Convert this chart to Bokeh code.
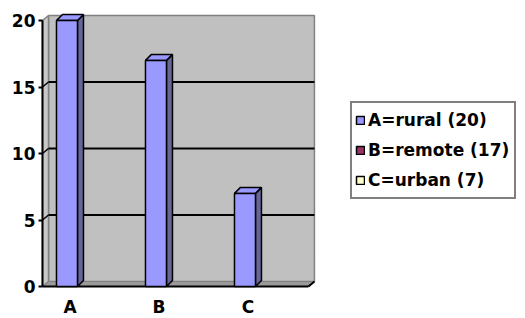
from bokeh.plotting import figure
from bokeh.models import Range1d, FixedTicker, ColumnDataSource, Legend, LegendItem
from bokeh.core.properties import value
from bokeh.embed import file_html
from bokeh.resources import INLINE

# ---- data ----
categories = ["A", "B", "C"]
counts = [20, 17, 7]
legend_labels = ["A=rural (20)", "B=remote (17)", "C=urban (7)"]
legend_colors = ["#9999FF", "#993366", "#FFFFCC"]
y_ticks = [0, 5, 10, 15, 20]

# ---- geometry (pixel-derived scales) ----
PX_X = 89.0      # px per x unit
PX_Y = 13.3      # px per y unit
FIG_W, FIG_H = 525, 318
BORDER_L, BORDER_T = 40, 4
frame_w = FIG_W - BORDER_L
frame_h = FIG_H - BORDER_T
x_front0 = -0.275                     # front-left corner of the chart box
x_start = x_front0 - 2 / PX_X
x_end = x_start + frame_w / PX_X
top_px = 20                           # px of value 20
y_end = y_ticks[-1] + (top_px - BORDER_T) / PX_Y
y_start = y_end - frame_h / PX_Y
zero_px = BORDER_T + y_end * PX_Y
x_front1 = 2.713                      # front-right corner of the floor
ymax = y_ticks[-1]
dx, dy = 6 / PX_X, 5 / PX_Y           # wall depth
bdx, bdy = 6 / PX_X, 6 / PX_Y         # bar depth
bw = 21 / PX_X                        # bar front width
FONT = "DejaVu Sans"
NAN = float("nan")

p = figure(width=FIG_W, height=FIG_H, output_backend="svg", toolbar_location=None,
           x_range=Range1d(x_start, x_end), y_range=Range1d(y_start, y_end),
           min_border_left=BORDER_L, min_border_top=BORDER_T,
           min_border_right=0, min_border_bottom=0)
p.outline_line_color = None
p.background_fill_color = "white"
p.border_fill_color = "white"
p.xgrid.visible = False
p.ygrid.visible = False
p.xaxis.visible = False

ya = p.yaxis[0]
ya.ticker = FixedTicker(ticks=y_ticks)
ya.axis_line_color = None
ya.major_tick_in = 2
ya.major_tick_out = 2
ya.major_tick_line_width = 2
ya.major_tick_line_color = "black"
ya.minor_tick_line_color = None
ya.major_label_standoff = 3
ya.major_label_text_font = FONT
ya.major_label_text_font_style = "bold"
ya.major_label_text_font_size = "17px"
ya.major_label_text_color = "black"

# back wall
p.quad(left=[x_front0 + dx], right=[x_front1 + dx], bottom=[dy], top=[ymax + dy],
       fill_color="#C0C0C0", line_color="#808080", line_width=1.5)
# side wall
p.patch([x_front0, x_front0 + dx, x_front0 + dx, x_front0], [0, dy, ymax + dy, ymax],
        fill_color="#C8C8C8", line_color="#808080", line_width=1.5)
# floor
p.patch([x_front0, x_front1, x_front1 + dx, x_front0 + dx], [0, 0, dy, dy],
        fill_color="#9A9A9A", line_color="#808080", line_width=1)
# gridlines on back wall
grid_vals = [v for v in y_ticks if 0 < v < ymax]
p.segment(x0=[x_front0 + dx] * len(grid_vals), y0=[v + dy for v in grid_vals],
          x1=[x_front1 + dx] * len(grid_vals), y1=[v + dy for v in grid_vals],
          line_color="black", line_width=2)
p.segment(x0=[x_front0] * len(grid_vals), y0=grid_vals,
          x1=[x_front0 + dx] * len(grid_vals), y1=[v + dy for v in grid_vals],
          line_color="black", line_width=1.5)
# axis lines
p.segment(x0=[x_front0], y0=[0], x1=[x_front0], y1=[ymax], line_color="black", line_width=2)
p.segment(x0=[x_front0], y0=[0], x1=[x_front1], y1=[0], line_color="black", line_width=2)
p.segment(x0=[x_front1], y0=[0], x1=[x_front1 + dx], y1=[dy], line_color="black", line_width=2)

# bars
xs = list(range(len(categories)))
src = ColumnDataSource(dict(
    left=[x - bw / 2 for x in xs], right=[x + bw / 2 for x in xs],
    bottom=[0] * len(xs), top=counts))
side_xs = [[x + bw / 2, x + bw / 2 + bdx, x + bw / 2 + bdx, x + bw / 2] for x in xs]
side_ys = [[0, bdy, v + bdy, v] for v in counts]
top_xs = [[x - bw / 2, x + bw / 2, x + bw / 2 + bdx, x - bw / 2 + bdx] for x in xs]
top_ys = [[v, v, v + bdy, v + bdy] for v in counts]
p.patches(side_xs, side_ys, fill_color="#666699", line_color="black", line_width=1.5)
p.patches(top_xs, top_ys, fill_color="#9999FF", line_color="black", line_width=1.5)
p.quad(source=src, left="left", right="right", bottom="bottom", top="top",
       fill_color="#9999FF", line_color="black", line_width=1.5)

# category labels
label_y = -(296 - zero_px) / PX_Y
p.text(x=[x + bdx / 2 for x in xs], y=[label_y] * len(xs),
       text=categories, text_align="center", text_baseline="top",
       text_font=value(FONT), text_font_style="bold", text_font_size="17px",
       text_color="black")

# legend
items = []
for lab, col in zip(legend_labels, legend_colors):
    r = p.quad(left=[NAN], right=[NAN], bottom=[NAN], top=[NAN], fill_color=col,
               line_color="black", line_width=1.5)
    items.append(LegendItem(label=lab, renderers=[r]))
leg = Legend(items=items, location=(350 - BORDER_L, FIG_H - 199))
leg.border_line_color = "black"
leg.border_line_width = 2
leg.background_fill_color = "white"
leg.background_fill_alpha = 1
leg.label_text_font = FONT
leg.label_text_font_style = "bold"
leg.label_text_font_size = "17px"
leg.label_text_color = "black"
leg.glyph_width = 10
leg.glyph_height = 10
leg.label_height = 28
leg.label_width = 143
leg.label_standoff = 3
leg.spacing = 2
leg.padding = 3
leg.margin = 0
p.add_layout(leg)

open("out.html", "w").write(file_html(p, INLINE))
